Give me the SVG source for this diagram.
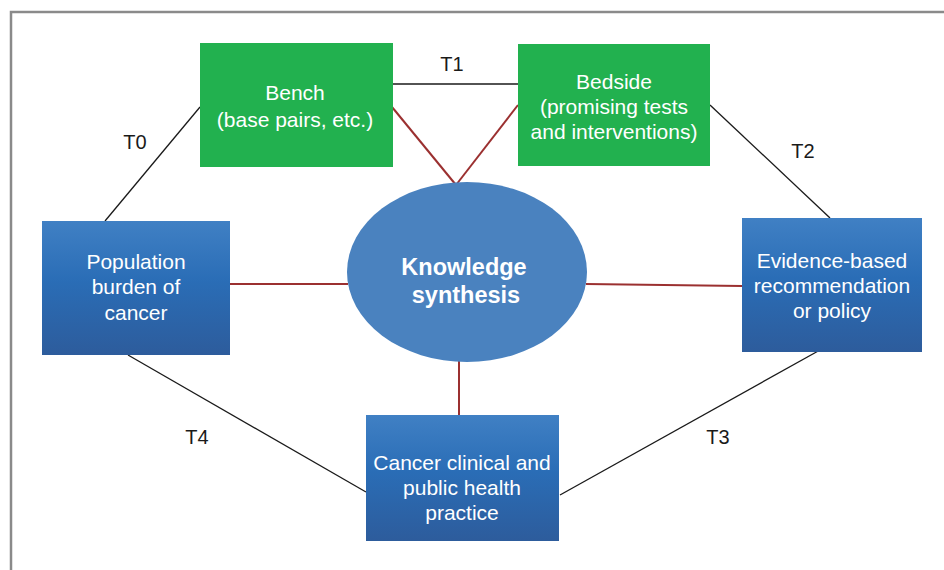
<svg xmlns="http://www.w3.org/2000/svg" width="944" height="570" viewBox="0 0 944 570">
<defs>
<linearGradient id="blue" x1="0" y1="0" x2="0" y2="1">
<stop offset="0" stop-color="#4080C4"/>
<stop offset="0.45" stop-color="#2A6DB6"/>
<stop offset="1" stop-color="#2D5C9C"/>
</linearGradient>
<style>
.frame{fill:none;stroke:#8A8A8A;stroke-width:2.5}
.green{fill:#22B14F}
.blue{fill:url(#blue)}
.blk{stroke:#1A1A1A;stroke-width:1.3;fill:none}
.red{stroke:#9B3030;stroke-width:2;fill:none}
.lbl{font-family:"Liberation Sans",Arial,sans-serif;font-size:20px;fill:#1A1A1A;text-anchor:middle}
.nt{font-family:"Liberation Sans",Arial,sans-serif;font-size:21px;fill:#FFFFFF;text-anchor:middle}
.kt{font-family:"Liberation Sans",Arial,sans-serif;font-size:23.5px;font-weight:bold;fill:#FFFFFF;text-anchor:middle}
</style>
</defs>
<rect width="944" height="570" fill="#FFFFFF"/>
<path class="frame" d="M11,572 V12 H946"/>
<g id="connectors">
<line class="blk" x1="393" y1="84" x2="518" y2="84"/>
<line class="blk" x1="105" y1="221" x2="200" y2="107"/>
<line class="blk" x1="710" y1="105" x2="830" y2="218"/>
<line class="blk" x1="560" y1="495" x2="820" y2="350"/>
<line class="blk" x1="128" y1="355" x2="366" y2="492"/>
<line class="red" x1="392" y1="107" x2="456" y2="185"/>
<line class="red" x1="518" y1="105" x2="456" y2="185"/>
<line class="red" x1="230" y1="284" x2="348" y2="284"/>
<line class="red" x1="586" y1="284" x2="742" y2="286"/>
<line class="red" x1="459" y1="361" x2="459" y2="415"/>
<text class="lbl" x="452" y="71">T1</text>
<text class="lbl" x="135" y="149">T0</text>
<text class="lbl" x="803" y="158">T2</text>
<text class="lbl" x="718" y="444">T3</text>
<text class="lbl" x="197" y="444">T4</text>
</g>
<g id="bench">
<rect class="green" x="200" y="43" width="193" height="124"/>
<text class="nt" x="295" y="100">Bench</text>
<text class="nt" x="295" y="127">(base pairs, etc.)</text>
</g>
<g id="bedside">
<rect class="green" x="518" y="44" width="192" height="122"/>
<text class="nt" x="614" y="89">Bedside</text>
<text class="nt" x="614" y="114">(promising tests</text>
<text class="nt" x="614" y="139">and interventions)</text>
</g>
<g id="knowledge">
<ellipse cx="467" cy="272" rx="120" ry="90" fill="#4A82BF"/>
<text class="kt" x="464" y="275">Knowledge</text>
<text class="kt" x="466" y="303">synthesis</text>
</g>
<g id="population">
<rect class="blue" x="42" y="221" width="188" height="134"/>
<text class="nt" x="136" y="269">Population</text>
<text class="nt" x="136" y="294">burden of</text>
<text class="nt" x="136" y="320">cancer</text>
</g>
<g id="evidence">
<rect class="blue" x="742" y="218" width="180" height="134"/>
<text class="nt" x="832" y="268">Evidence-based</text>
<text class="nt" x="832" y="293">recommendation</text>
<text class="nt" x="832" y="318">or policy</text>
</g>
<g id="practice">
<rect class="blue" x="366" y="415" width="193" height="126"/>
<text class="nt" x="462" y="470">Cancer clinical and</text>
<text class="nt" x="462" y="495">public health</text>
<text class="nt" x="462" y="520">practice</text>
</g>
</svg>
